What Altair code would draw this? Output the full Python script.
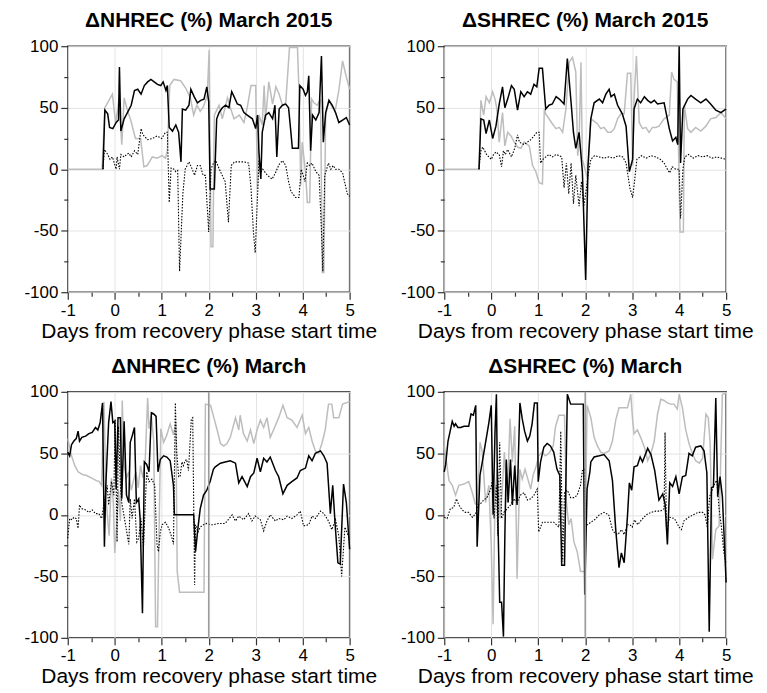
import altair as alt
import pandas as pd

# ---- data: (day, value) pairs per series ----
A_black = [(-0.25,0),(-0.21,48),(-0.15,45),(-0.11,34),(-0.04,33),(0.03,38),(0.08,40),(0.10,83),(0.13,31),(0.20,41),(0.27,46),(0.35,52),(0.42,64),(0.49,65),(0.56,61),(0.63,68),(0.70,71),(0.77,73),(0.84,71),(0.91,69),(0.98,68),(1.03,71),(1.09,64),(1.12,68),(1.16,34),(1.23,31),(1.30,36),(1.36,30),(1.41,6),(1.44,49),(1.51,48),(1.58,52),(1.62,65),(1.69,59),(1.76,54),(1.83,56),(1.90,57),(1.96,67),(2.00,55),(2.03,-16),(2.12,-16),(2.17,41),(2.22,46),(2.29,50),(2.36,52),(2.43,50),(2.49,63),(2.54,59),(2.61,53),(2.68,52),(2.75,46),(2.82,44),(2.93,41),(3.00,33),(3.04,44),(3.07,14),(3.11,-8),(3.14,30),(3.21,44),(3.28,46),(3.36,41),(3.41,52),(3.45,10),(3.50,49),(3.57,52),(3.64,53),(3.70,50),(3.75,30),(3.78,17),(3.91,17),(3.94,68),(4.01,65),(4.06,60),(4.10,63),(4.13,76),(4.17,15),(4.21,44),(4.28,40),(4.35,46),(4.40,92),(4.44,22),(4.49,46),(4.56,56),(4.63,52),(4.70,46),(4.77,38),(4.85,40),(4.93,42),(5.0,36)]
A_gray = [(-1,0),(-0.27,0),(-0.21,50),(-0.05,61),(0.02,37),(0.09,57),(0.15,20),(0.20,58),(0.27,48),(0.34,40),(0.44,25),(0.55,25),(0.62,2),(0.69,3),(0.80,10),(0.90,9),(1.01,11),(1.08,9),(1.12,15),(1.17,68),(1.26,73),(1.40,72),(1.51,66),(1.61,58),(1.68,44),(1.75,52),(1.82,47),(1.89,51),(1.97,60),(2.01,97),(2.05,-63),(2.09,-63),(2.12,44),(2.22,52),(2.29,41),(2.40,58),(2.47,49),(2.54,41),(2.65,44),(2.75,38),(2.82,50),(2.90,68),(3.00,68),(3.04,-16),(3.07,44),(3.14,36),(3.18,68),(3.21,40),(3.28,71),(3.36,53),(3.43,67),(3.50,61),(3.57,52),(3.64,54),(3.72,99),(3.89,99),(3.92,65),(3.96,-13),(3.99,22),(4.06,-2),(4.10,-27),(4.15,-27),(4.19,57),(4.24,54),(4.31,52),(4.38,57),(4.42,-84),(4.45,-84),(4.49,44),(4.56,56),(4.63,50),(4.70,49),(4.77,64),(4.85,88),(4.93,75),(5.0,65)]
A_dot = [(-0.25,0),(-0.22,16),(-0.15,12),(-0.10,8),(-0.05,10),(0.03,0),(0.05,10),(0.10,0),(0.13,12),(0.20,10),(0.25,12),(0.30,13),(0.35,10),(0.42,15),(0.49,12),(0.56,33),(0.60,28),(0.70,24),(0.80,25),(0.90,27),(1.00,25),(1.08,30),(1.12,30),(1.16,-27),(1.20,1),(1.26,0),(1.30,-2),(1.34,-1),(1.38,-83),(1.45,-20),(1.50,0),(1.58,6),(1.65,0),(1.70,-5),(1.76,3),(1.82,3),(1.88,-5),(1.93,-5),(2.00,-51),(2.05,0),(2.10,5),(2.15,7),(2.25,-2),(2.35,-10),(2.42,-43),(2.48,3),(2.55,6),(2.65,6),(2.75,6),(2.85,5),(2.90,-15),(2.95,-50),(2.99,-68),(3.07,7),(3.10,-3),(3.15,0),(3.25,-5),(3.35,-8),(3.42,-3),(3.50,4),(3.57,7),(3.64,3),(3.70,-10),(3.75,-18),(3.85,-23),(3.92,-23),(3.97,0),(4.05,-10),(4.10,5),(4.15,3),(4.20,5),(4.28,-2),(4.35,-5),(4.40,-50),(4.43,-83),(4.47,-5),(4.55,5),(4.60,0),(4.65,3),(4.70,0),(4.77,0),(4.85,-3),(4.95,-20),(5.0,-22)]

B_black = [(-0.26,0),(-0.22,41),(-0.16,40),(-0.11,29),(-0.04,40),(0.03,25),(0.10,35),(0.17,53),(0.24,67),(0.29,50),(0.35,57),(0.43,68),(0.49,65),(0.56,48),(0.63,63),(0.70,59),(0.77,63),(0.84,61),(0.91,69),(0.97,67),(1.02,82),(1.09,82),(1.13,63),(1.16,49),(1.23,52),(1.30,53),(1.38,59),(1.45,57),(1.55,53),(1.62,90),(1.70,54),(1.75,30),(1.80,17),(1.87,30),(1.94,-2),(2.01,-90),(2.06,3),(2.12,41),(2.19,54),(2.30,57),(2.37,54),(2.44,61),(2.51,65),(2.55,59),(2.62,61),(2.69,52),(2.79,45),(2.87,35),(2.94,-2),(3.01,8),(3.04,49),(3.11,57),(3.18,54),(3.26,59),(3.33,56),(3.40,54),(3.47,56),(3.54,53),(3.68,54),(3.79,33),(3.86,23),(3.93,26),(3.97,20),(4.00,100),(4.03,5),(4.08,49),(4.18,57),(4.25,60),(4.35,57),(4.46,54),(4.57,57),(4.67,53),(4.78,48),(4.89,46),(5.0,49)]
B_gray = [(-1,0),(-0.26,0),(-0.22,56),(-0.16,44),(-0.11,59),(-0.04,54),(0.03,63),(0.08,57),(0.12,49),(0.17,22),(0.24,46),(0.29,19),(0.35,30),(0.42,27),(0.49,22),(0.56,18),(0.63,17),(0.70,22),(0.81,19),(0.88,3),(0.95,-2),(1.02,-11),(1.09,-12),(1.13,49),(1.16,45),(1.23,41),(1.30,37),(1.38,33),(1.45,34),(1.52,30),(1.59,49),(1.66,87),(1.73,91),(1.80,79),(1.84,11),(1.87,22),(1.91,87),(1.94,8),(2.01,-2),(2.05,-8),(2.12,41),(2.26,37),(2.33,33),(2.40,34),(2.48,30),(2.55,30),(2.62,33),(2.69,41),(2.76,45),(2.83,45),(2.90,78),(2.97,78),(3.01,3),(3.04,57),(3.09,92),(3.15,38),(3.22,33),(3.29,34),(3.36,30),(3.43,34),(3.50,34),(3.57,35),(3.68,41),(3.79,44),(3.84,79),(3.89,73),(3.96,71),(4.02,-51),(4.09,-51),(4.11,52),(4.18,33),(4.25,30),(4.35,34),(4.46,31),(4.57,35),(4.67,41),(4.78,42),(4.89,46),(5.0,41)]
B_dot = [(-0.26,0),(-0.22,15),(-0.18,18),(-0.10,12),(-0.05,10),(0.00,8),(0.05,12),(0.10,14),(0.17,12),(0.22,2),(0.26,15),(0.30,12),(0.35,16),(0.43,10),(0.50,17),(0.56,28),(0.60,22),(0.70,20),(0.77,22),(0.84,24),(0.91,27),(0.97,30),(1.02,30),(1.05,5),(1.10,8),(1.16,10),(1.23,12),(1.30,10),(1.38,12),(1.45,11),(1.50,10),(1.55,-15),(1.60,5),(1.65,-20),(1.70,5),(1.75,-28),(1.80,-5),(1.87,-30),(1.92,-10),(1.97,-30),(2.01,-20),(2.06,-5),(2.12,8),(2.20,11),(2.30,10),(2.40,9),(2.50,10),(2.60,9),(2.70,11),(2.80,10),(2.87,5),(2.95,-15),(3.01,-23),(3.05,-10),(3.10,8),(3.20,11),(3.30,9),(3.40,11),(3.50,10),(3.60,8),(3.68,5),(3.75,0),(3.80,-3),(3.85,2),(3.93,0),(4.00,0),(4.03,-40),(4.08,0),(4.12,10),(4.20,12),(4.30,9),(4.40,11),(4.50,10),(4.60,11),(4.70,9),(4.80,10),(4.90,9),(5.0,8)]

C_black = [(-1,51),(-0.96,48),(-0.92,57),(-0.87,60),(-0.82,62),(-0.78,68),(-0.75,60),(-0.70,63),(-0.62,64),(-0.55,66),(-0.48,67),(-0.41,71),(-0.36,69),(-0.31,75),(-0.26,91),(-0.22,-26),(-0.19,24),(-0.13,75),(-0.08,92),(-0.04,75),(0.00,76),(0.03,21),(0.07,79),(0.12,79),(0.15,13),(0.20,76),(0.25,16),(0.30,10),(0.33,59),(0.37,64),(0.42,71),(0.46,10),(0.51,13),(0.54,-3),(0.59,-80),(0.63,43),(0.68,41),(0.73,35),(0.78,83),(0.83,82),(0.88,80),(0.92,35),(0.97,45),(1.04,48),(1.11,47),(1.18,44),(1.25,24),(1.27,0),(1.68,0),(1.72,-30),(1.77,-11),(1.82,5),(1.89,16),(1.96,20),(2.03,27),(2.10,37),(2.14,39),(2.25,42),(2.35,43),(2.46,44),(2.57,42),(2.64,26),(2.71,31),(2.82,23),(2.89,31),(2.96,34),(3.03,46),(3.10,35),(3.17,46),(3.24,43),(3.31,47),(3.42,36),(3.49,31),(3.58,17),(3.67,24),(3.77,27),(3.88,30),(3.95,36),(4.06,38),(4.13,48),(4.20,44),(4.27,50),(4.38,52),(4.45,48),(4.52,42),(4.59,1),(4.64,24),(4.69,-7),(4.75,-39),(4.80,-40),(4.87,25),(4.93,10),(5.0,-28)]
C_gray = [(-1,62),(-0.92,48),(-0.85,40),(-0.78,35),(-0.70,33),(-0.60,32),(-0.50,30),(-0.40,28),(-0.33,27),(-0.28,24),(-0.23,92),(-0.18,10),(-0.12,-17),(-0.07,30),(-0.03,10),(0.00,-31),(0.04,-10),(0.08,20),(0.12,-5),(0.16,93),(0.20,40),(0.25,30),(0.30,35),(0.35,20),(0.40,28),(0.45,35),(0.50,22),(0.55,40),(0.60,30),(0.65,45),(0.70,95),(0.73,70),(0.78,80),(0.83,60),(0.87,-91),(0.91,-91),(0.95,2),(0.98,70),(1.04,59),(1.10,64),(1.18,74),(1.25,65),(1.30,75),(1.33,-46),(1.38,-63),(1.90,-63),(1.93,90),(2.04,89),(2.11,79),(2.18,69),(2.25,58),(2.32,56),(2.39,58),(2.46,63),(2.57,79),(2.64,69),(2.67,81),(2.74,66),(2.82,60),(2.89,69),(2.96,58),(3.03,69),(3.10,77),(3.17,71),(3.24,79),(3.31,63),(3.38,69),(3.49,79),(3.58,89),(3.67,79),(3.77,77),(3.88,71),(3.99,81),(4.06,66),(4.13,71),(4.20,60),(4.27,52),(4.34,50),(4.41,58),(4.48,69),(4.55,90),(4.62,90),(4.66,79),(4.77,79),(4.85,90),(5.0,92)]
C_dot = [(-1,-19),(-0.96,-3),(-0.91,-4),(-0.87,-2),(-0.82,-3),(-0.78,-11),(-0.75,8),(-0.70,5),(-0.62,4),(-0.55,2),(-0.48,4),(-0.41,1),(-0.34,1),(-0.28,-3),(-0.21,13),(-0.16,24),(-0.13,8),(-0.07,27),(-0.02,16),(0.01,78),(0.05,-22),(0.08,72),(0.12,24),(0.15,10),(0.22,-6),(0.30,-24),(0.33,13),(0.37,-3),(0.42,13),(0.47,-22),(0.51,-19),(0.56,-3),(0.61,-27),(0.68,35),(0.73,27),(0.79,29),(0.85,24),(0.90,-24),(0.93,-30),(0.97,-14),(1.01,-8),(1.08,-6),(1.15,-11),(1.22,-19),(1.25,-24),(1.29,91),(1.32,51),(1.36,31),(1.39,31),(1.43,43),(1.46,40),(1.50,44),(1.53,45),(1.57,36),(1.63,78),(1.66,79),(1.70,-57),(1.72,-8),(1.77,-14),(1.82,-10),(1.89,-8),(1.96,-7),(2.03,-8),(2.10,-8),(2.20,-7),(2.35,-7),(2.50,0),(2.57,-5),(2.64,-1),(2.74,-4),(2.85,1),(2.92,-5),(2.99,-1),(3.10,-4),(3.17,-13),(3.24,-5),(3.31,0),(3.42,-5),(3.49,-3),(3.60,-4),(3.67,-1),(3.77,-3),(3.88,0),(3.95,3),(4.02,-9),(4.13,-8),(4.20,-1),(4.27,-3),(4.38,3),(4.45,1),(4.55,-5),(4.62,-12),(4.70,-4),(4.77,-17),(4.83,-50),(4.90,-10),(5.0,-20)]

D_black = [(-1,35),(-0.97,41),(-0.92,60),(-0.88,67),(-0.83,76),(-0.79,72),(-0.76,74),(-0.71,71),(-0.65,71),(-0.58,72),(-0.48,72),(-0.43,82),(-0.38,81),(-0.33,89),(-0.30,-26),(-0.24,32),(-0.19,43),(-0.12,59),(-0.05,75),(0.00,89),(0.04,0),(0.08,67),(0.11,98),(0.14,0),(0.18,-71),(0.22,-71),(0.26,-99),(0.29,-17),(0.32,45),(0.36,10),(0.41,45),(0.45,8),(0.50,40),(0.55,8),(0.61,91),(0.66,78),(0.71,68),(0.77,60),(0.82,64),(0.87,74),(0.92,91),(0.98,91),(1.00,27),(1.05,43),(1.12,55),(1.19,58),(1.26,56),(1.33,51),(1.40,37),(1.46,32),(1.50,-41),(1.56,-41),(1.62,98),(1.69,90),(1.76,90),(1.83,90),(1.96,90),(1.99,-65),(2.04,21),(2.10,35),(2.12,43),(2.19,47),(2.30,48),(2.40,49),(2.51,44),(2.58,28),(2.65,-12),(2.72,-43),(2.77,-31),(2.83,-39),(2.90,-1),(2.94,26),(2.99,20),(3.04,39),(3.11,40),(3.17,47),(3.22,43),(3.33,54),(3.40,49),(3.48,36),(3.57,12),(3.65,17),(3.70,9),(3.75,-24),(3.80,26),(3.86,23),(3.93,31),(4.00,17),(4.07,31),(4.14,32),(4.21,50),(4.28,48),(4.35,55),(4.46,56),(4.53,52),(4.59,34),(4.64,-95),(4.69,22),(4.73,23),(4.78,95),(4.82,15),(4.87,31),(4.92,15),(5.0,-55)]
D_gray = [(-1,56),(-0.90,28),(-0.83,24),(-0.76,16),(-0.69,24),(-0.58,25),(-0.48,27),(-0.41,19),(-0.34,9),(-0.29,8),(-0.24,59),(-0.19,51),(-0.12,10),(-0.05,24),(0.00,-25),(0.04,-89),(0.08,16),(0.13,37),(0.19,-3),(0.24,24),(0.28,51),(0.34,10),(0.40,78),(0.45,43),(0.50,72),(0.55,-52),(0.61,37),(0.66,29),(0.72,37),(0.78,29),(0.84,21),(0.89,32),(0.96,40),(1.01,48),(1.08,51),(1.15,48),(1.23,50),(1.32,56),(1.37,72),(1.44,81),(1.56,81),(1.60,10),(1.65,-8),(1.70,-3),(1.76,-22),(1.83,-30),(1.90,-46),(1.99,-46),(2.04,89),(2.12,79),(2.19,63),(2.26,56),(2.33,51),(2.40,50),(2.51,52),(2.58,60),(2.65,77),(2.72,87),(2.83,87),(2.90,87),(2.97,98),(3.01,77),(3.04,66),(3.11,69),(3.18,63),(3.26,55),(3.33,44),(3.40,50),(3.47,60),(3.54,82),(3.61,94),(3.68,93),(3.75,91),(3.82,90),(3.89,90),(3.96,86),(4.00,98),(4.07,87),(4.14,69),(4.21,58),(4.28,50),(4.35,44),(4.43,42),(4.50,46),(4.57,82),(4.62,79),(4.66,58),(4.71,-36),(4.78,-12),(4.85,-9),(4.92,98),(5.0,99)]
D_dot = [(-1,-2),(-0.94,-3),(-0.87,5),(-0.80,6),(-0.74,13),(-0.69,8),(-0.62,4),(-0.55,2),(-0.48,2),(-0.40,-2),(-0.33,1),(-0.28,8),(-0.23,9),(-0.16,12),(-0.09,14),(-0.01,21),(0.02,27),(0.06,-3),(0.11,24),(0.14,-17),(0.18,59),(0.22,-3),(0.27,2),(0.34,5),(0.41,8),(0.48,13),(0.55,10),(0.62,16),(0.70,18),(0.77,12),(0.84,13),(0.91,16),(0.98,21),(1.01,-14),(1.09,-6),(1.19,-6),(1.33,-6),(1.44,-10),(1.48,68),(1.52,-38),(1.56,18),(1.62,20),(1.69,14),(1.76,14),(1.83,16),(1.90,24),(1.94,36),(1.98,37),(2.00,-8),(2.05,-8),(2.12,-6),(2.20,-4),(2.30,0),(2.40,2),(2.50,0),(2.58,-12),(2.63,-15),(2.70,-16),(2.77,-12),(2.83,-16),(2.90,-8),(2.95,-8),(3.00,-10),(3.05,-4),(3.12,-8),(3.20,-4),(3.30,0),(3.40,2),(3.50,3),(3.60,3),(3.68,5),(3.70,67),(3.73,-10),(3.80,-2),(3.90,-3),(4.00,-10),(4.05,-12),(4.10,-5),(4.20,-2),(4.30,0),(4.40,2),(4.50,2),(4.55,0),(4.60,-10),(4.65,15),(4.70,20),(4.75,25),(4.80,28),(4.85,5),(4.90,-10),(4.95,-30),(5.0,-40)]

titles = ["ΔNHREC (%) March 2015", "ΔSHREC (%) March 2015", "ΔNHREC (%) March", "ΔSHREC (%) March"]
marker_days = [[], [], [2], [2]]
x_ticks = [-1, -0.5, 0, 0.5, 1, 1.5, 2, 2.5, 3, 3.5, 4, 4.5, 5]
y_ticks = [-100, -75, -50, -25, 0, 25, 50, 75, 100]
x_title = "Days from recovery phase start time"

FONT = "Liberation Sans"
W, H = 283, 247

xscale = alt.Scale(domain=[-1, 5], nice=False, zero=False)
yscale = alt.Scale(domain=[-100, 100], nice=False, zero=False)

xaxis = alt.Axis(
    values=x_ticks, title=x_title,
    labelExpr="datum.value % 1 == 0 ? toString(datum.value) : ''",
    tickSize={"condition": {"test": "datum.value % 1 == 0", "value": 7}, "value": 4},
    gridOpacity={"condition": {"test": "datum.value % 1 == 0", "value": 1}, "value": 0},
    labelFlush=False, labelOverlap=False,
)
yaxis = alt.Axis(
    values=y_ticks, title=None,
    labelExpr="datum.value % 50 == 0 ? toString(datum.value) : ''",
    tickSize={"condition": {"test": "datum.value % 50 == 0", "value": 7}, "value": 4},
    gridOpacity={"condition": {"test": "datum.value % 50 == 0", "value": 1}, "value": 0},
    labelFlush=False, labelOverlap=False,
)


def to_df(pairs):
    return pd.DataFrame({"day": [p[0] for p in pairs], "val": [p[1] for p in pairs], "i": list(range(len(pairs)))})


def line_layer(pairs, **style):
    return alt.Chart(to_df(pairs)).mark_line(**style).encode(
        x=alt.X("day:Q", scale=xscale, axis=xaxis),
        y=alt.Y("val:Q", scale=yscale, axis=yaxis),
        order="i:Q",
    )


def panel(title, black, gray, dot, markers):
    layers = [
        line_layer(gray, color="#bdbdbd", strokeWidth=1.5),
        line_layer(dot, color="#000000", strokeWidth=1.1, strokeDash=[1.5, 1.5]),
        line_layer(black, color="#000000", strokeWidth=1.5),
    ]
    if markers:
        layers.append(
            alt.Chart(pd.DataFrame({"day": markers})).mark_rule(color="#9a9a9a", strokeWidth=1.5).encode(
                x=alt.X("day:Q", scale=xscale, axis=xaxis)
            )
        )
    return alt.layer(*layers).properties(
        width=W, height=H,
        title=alt.TitleParams(title, font=FONT, fontSize=21, fontWeight="bold", color="black", offset=6),
    )


series = [(A_black, A_gray, A_dot), (B_black, B_gray, B_dot), (C_black, C_gray, C_dot), (D_black, D_gray, D_dot)]
p = [panel(titles[k], *series[k], marker_days[k]) for k in range(4)]

chart = alt.concat(
    *p, columns=2, spacing={"row": 100, "column": 95}, bounds="flush",
).properties(
    padding={"left": 15, "top": 0, "right": 5, "bottom": 0}
).configure_view(
    stroke="#333333", strokeWidth=1.5
).configure_axis(
    labelFont=FONT, labelFontSize=17, labelColor="black", labelPadding=3,
    titleFont=FONT, titleFontSize=21, titleFontWeight="normal", titleColor="black", titlePadding=2,
    domain=False, tickColor="#333333", tickWidth=1.2,
    gridColor="#e3e3e3", gridWidth=1,
)

chart.save("out.html", embed_options={"renderer": "svg", "actions": False})
